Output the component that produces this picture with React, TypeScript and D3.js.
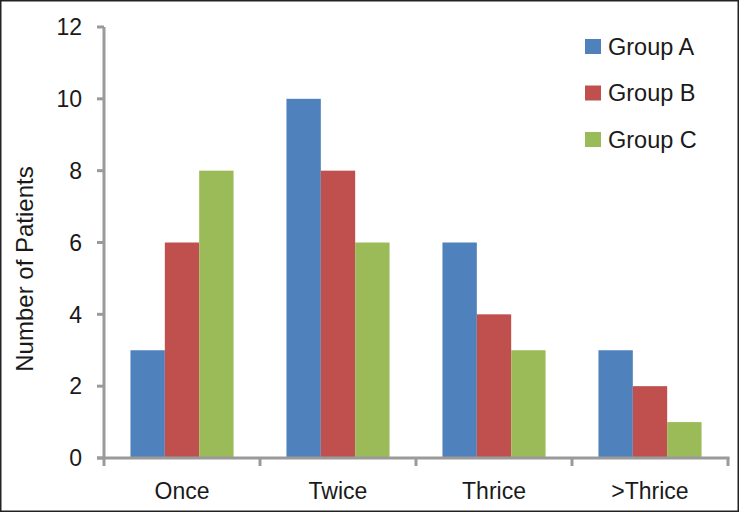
import * as d3 from "d3"

const categories = ["Once", "Twice", "Thrice", ">Thrice"]
const groups = ["Group A", "Group B", "Group C"]
const groupA = [3, 10, 6, 3]
const groupB = [6, 8, 4, 2]
const groupC = [8, 6, 3, 1]
const yTicks = [0, 2, 4, 6, 8, 10, 12]

const colors = ["#4f81bd", "#c0504d", "#9bbb59"]
const axisColor = "#9a9a9a"
const font = "'Liberation Sans', Arial, sans-serif"

export default function App() {
  const width = 739
  const height = 512
  const x0 = 104
  const x1 = 728
  const yTop = 27
  const yBottom = 458

  const series = [groupA, groupB, groupC]

  const x = d3.scaleBand().domain(categories).range([x0, x1]).paddingInner(0).paddingOuter(0)
  const inner = d3
    .scaleBand()
    .domain(groups)
    .range([0, x.bandwidth()])
    .paddingInner(0)
    .paddingOuter(0.77)
  const y = d3.scaleLinear().domain([0, 12]).range([yBottom, yTop])

  const boundaries = [...categories.map((c) => x(c) as number), x1]

  return (
    <svg
      width={width}
      height={height}
      style={{ position: "absolute", left: 0, top: 0, background: "#fff" }}
      fontFamily={font}
    >
      <rect x={0.75} y={0.75} width={width - 1.5} height={height - 1.5} fill="#fff" stroke="#222" strokeWidth={1.5} />

      {/* bars */}
      {categories.map((c, i) =>
        series.map((s, g) => (
          <rect
            key={c + g}
            x={(x(c) as number) + (inner(groups[g]) as number)}
            y={y(s[i])}
            width={inner.bandwidth()}
            height={yBottom - y(s[i])}
            fill={colors[g]}
          />
        ))
      )}

      {/* y axis */}
      <line x1={x0} x2={x0} y1={yTop} y2={yBottom} stroke={axisColor} strokeWidth={3} />
      {yTicks.map((t) => (
        <g key={t}>
          <line x1={x0 - 7} x2={x0} y1={y(t)} y2={y(t)} stroke={axisColor} strokeWidth={3} />
          <text x={82} y={y(t)} dy="0.36em" textAnchor="end" fontSize={23} fill="#1a1a1a">
            {t}
          </text>
        </g>
      ))}

      {/* x axis */}
      <line x1={x0 - 7} x2={x1 + 1.5} y1={yBottom} y2={yBottom} stroke={axisColor} strokeWidth={3} />
      {boundaries.map((b, i) => (
        <line key={i} x1={b} x2={b} y1={yBottom} y2={yBottom + 8} stroke={axisColor} strokeWidth={3} />
      ))}
      {categories.map((c) => (
        <text
          key={c}
          x={(x(c) as number) + x.bandwidth() / 2}
          y={499}
          textAnchor="middle"
          fontSize={23}
          fill="#1a1a1a"
        >
          {c}
        </text>
      ))}

      {/* y axis title */}
      <text
        transform={`translate(33, 269) rotate(-90)`}
        textAnchor="middle"
        fontSize={24}
        fill="#1a1a1a"
      >
        Number of Patients
      </text>

      {/* legend */}
      {groups.map((g, i) => (
        <g key={g} transform={`translate(585, ${39 + i * 46.5})`}>
          <rect x={0} y={0} width={16} height={15} fill={colors[i]} />
          <text x={23} y={7.5} dy="0.36em" fontSize={23.5} fill="#1a1a1a">
            {g}
          </text>
        </g>
      ))}
    </svg>
  )
}
